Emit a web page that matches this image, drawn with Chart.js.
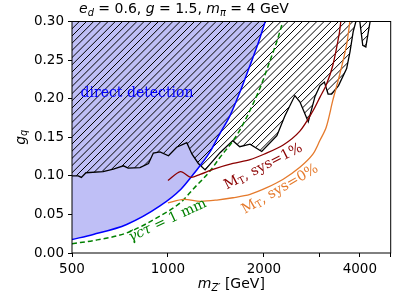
<!DOCTYPE html>
<html>
<head>
<meta charset="utf-8">
<script src="https://cdn.jsdelivr.net/npm/chart.js@4.4.1/dist/chart.umd.min.js"></script>
<style>
  html, body { margin: 0; padding: 0; background: #fff; }
  #wrap { width: 411px; height: 308px; }
</style>
</head>
<body>
<div id="wrap"><canvas id="chart" width="411" height="308"></canvas></div>
<script>
// values: x = m_Z' [GeV], y = g_q
const xTicks = [500, 1000, 2000, 3000, 4000, 5000];
const xTickLabels = ['500', '1000', '2000', '', '4000', ''];

// direct detection boundary (blue, shaded to the left)
const ddMass = [500, 583, 742, 944, 1100, 1201, 1350, 1457, 1566, 1680, 1809, 1920, 2027];
const ddCoupling = [0.0175, 0.024, 0.037, 0.061, 0.083, 0.102, 0.13, 0.155, 0.178, 0.208, 0.243, 0.272, 0.302];

// existing limit (black, hatched above)
const limMass = [500, 523, 535, 553, 626, 674, 725, 750, 817, 869, 900, 944, 1004, 1065, 1146, 1190, 1246, 1308,
  1457, 1598, 1680, 1810, 1969, 2197, 2329, 2502, 2594, 2756, 2894, 3001, 3097, 3181, 3263, 3430, 3637, 3727,
  3813, 3900, 4000, 4086, 4178, 4272, 4318];
const limCoupling = [0.100, 0.100, 0.098, 0.104, 0.1055, 0.1086, 0.113, 0.110, 0.1107, 0.116, 0.1295, 0.131, 0.126,
  0.137, 0.143, 0.128, 0.116, 0.1077, 0.130, 0.1456, 0.1377, 0.141, 0.1316, 0.152, 0.178, 0.204, 0.196, 0.170,
  0.203, 0.217, 0.2216, 0.206, 0.206, 0.217, 0.239, 0.261, 0.287, 0.302, 0.300, 0.269, 0.267, 0.291, 0.302];

// decay length = 1 mm (green dashed)
const ctauMass = [500, 600, 742, 944, 1100, 1201, 1354, 1457, 1598, 1680, 1810, 1950, 2094, 2200, 2301];
const ctauCoupling = [0.012, 0.017, 0.026, 0.048, 0.066, 0.083, 0.106, 0.124, 0.145, 0.159, 0.185, 0.215, 0.25, 0.275, 0.302];

// M_T reach, sys = 1% (dark red)
const sys1Mass = [1000, 1095, 1180, 1262, 1400, 1600, 1810, 2000, 2300, 2594, 2850, 3000, 3140, 3290, 3450, 3490];
const sys1Coupling = [0.094, 0.1055, 0.098, 0.102, 0.109, 0.116, 0.121, 0.128, 0.140, 0.158, 0.184, 0.202, 0.218, 0.243, 0.285, 0.302];

// M_T reach, sys = 0% (orange)
const sys0Mass = [1000, 1120, 1262, 1424, 1600, 1810, 2050, 2300, 2594, 2850, 3000, 3138, 3292, 3453, 3637, 3727];
const sys0Coupling = [0.065, 0.0695, 0.067, 0.0686, 0.0716, 0.076, 0.085, 0.0956, 0.111, 0.128, 0.146, 0.163, 0.198, 0.230, 0.27, 0.302];

const pts = (xs, ys) => xs.map((x, i) => ({x: x, y: ys[i]}));

// text placed at data coordinates
const curveLabels = [
  {x: 532, y: 0.2018, rot: 0, align: 'left', base: 'alphabetic', color: '#0000ff',
   parts: [['direct detection', '']]},
  {x: 996, y: 0.0419, rot: -25, align: 'center', base: 'middle', color: '#008000',
   parts: [['\u03b3\u0304', 'i'], ['c', 'i'], ['\u03c4', 'i'], [' = 1 mm', '']]},
  {x: 1993, y: 0.1118, rot: -27, align: 'center', base: 'middle', color: '#8b0000',
   parts: [['M', ''], ['T', 's'], [', sys=1%', '']]},
  {x: 2248, y: 0.0826, rot: -30, align: 'center', base: 'middle', color: '#e57a2c',
   parts: [['M', ''], ['T', 's'], [', sys=0%', '']]}
];

function hatchPattern() {
  const c = document.createElement('canvas');
  c.width = 36; c.height = 36;
  const g = c.getContext('2d');
  g.strokeStyle = '#000';
  g.lineWidth = 1;
  for (let k = 0; k <= 72.1; k += 7.2) {
    g.beginPath();
    g.moveTo(k, 0);
    g.lineTo(k - 36, 36);
    g.stroke();
  }
  return g.createPattern(c, 'repeat');
}

function drawRich(ctx, parts, x, y, size, family, align) {
  const fontFor = f => (f.includes('i') ? 'italic ' : '') + (f.includes('s') ? size * 0.7 : size) + 'px ' + family;
  let w = 0;
  parts.forEach(p => { ctx.font = fontFor(p[1]); w += ctx.measureText(p[0]).width; });
  let cx = align === 'center' ? x - w / 2 : (align === 'right' ? x - w : x);
  parts.forEach(p => {
    ctx.font = fontFor(p[1]);
    ctx.fillText(p[0], cx, y + (p[1].includes('s') ? size * 0.22 : 0));
    cx += ctx.measureText(p[0]).width;
  });
}

const textPlugin = {
  id: 'texts',
  afterDraw(chart) {
    const ctx = chart.ctx;
    const a = chart.chartArea;
    const xs = chart.scales.x, ys = chart.scales.y;
    ctx.save();
    // frame
    ctx.strokeStyle = '#000';
    ctx.lineWidth = 1;
    ctx.strokeRect(a.left, a.top, a.right - a.left, a.bottom - a.top);

    ctx.fillStyle = '#000';
    ctx.textBaseline = 'alphabetic';
    drawRich(ctx, [['e', 'i'], ['d', 'is'], [' = 0.6, ', ''], ['g', 'i'], [' = 1.5, ', ''],
      ['m', 'i'], ['\u03c0', 'is'], [' = 4 GeV', '']], 184, 12.5, 14, 'DejaVu Sans', 'center');
    drawRich(ctx, [['m', 'i'], ['Z\u2032', 'is'], [' [GeV]', '']], (a.left + a.right) / 2, 288, 14, 'DejaVu Sans', 'center');

    ctx.save();
    ctx.translate(21, (a.top + a.bottom) / 2);
    ctx.rotate(-Math.PI / 2);
    ctx.textBaseline = 'middle';
    drawRich(ctx, [['g', 'i'], ['q', 'is']], 0, 0, 14, 'DejaVu Sans', 'center');
    ctx.restore();

    curveLabels.forEach(l => {
      ctx.save();
      ctx.translate(xs.getPixelForValue(l.x), ys.getPixelForValue(l.y));
      ctx.rotate(l.rot * Math.PI / 180);
      ctx.fillStyle = l.color;
      ctx.textBaseline = l.base;
      drawRich(ctx, l.parts, 0, 0, 14, 'DejaVu Serif', l.align);
      ctx.restore();
    });
    ctx.restore();
  }
};

const tickFont = {family: 'DejaVu Sans', size: 13.5};

new Chart(document.getElementById('chart'), {
  type: 'line',
  data: {
    datasets: [
      {data: pts(ddMass, ddCoupling), fill: 'end', backgroundColor: 'rgb(191,191,246)',
       borderWidth: 0, borderColor: 'rgba(0,0,0,0)', pointRadius: 0, cubicInterpolationMode: 'monotone', order: 10},
      {data: pts(limMass, limCoupling), fill: 'end', backgroundColor: hatchPattern(),
       borderColor: '#000', borderWidth: 1.3, pointRadius: 0, tension: 0, order: 9},
      {data: pts(ddMass, ddCoupling), fill: false, borderColor: '#0000ff', borderWidth: 1.5,
       pointRadius: 0, cubicInterpolationMode: 'monotone', order: 4},
      {data: pts(ctauMass, ctauCoupling), fill: false, borderColor: '#008000', borderWidth: 1.5,
       borderDash: [5, 3], pointRadius: 0, cubicInterpolationMode: 'monotone', order: 3},
      {data: pts(sys1Mass, sys1Coupling), fill: false, borderColor: '#8b0000', borderWidth: 1.3,
       pointRadius: 0, tension: 0.3, order: 2},
      {data: pts(sys0Mass, sys0Coupling), fill: false, borderColor: '#e57a2c', borderWidth: 1.3,
       pointRadius: 0, tension: 0.3, order: 1}
    ]
  },
  options: {
    responsive: false,
    animation: false,
    devicePixelRatio: 1,
    layout: {padding: {top: 21.5, right: 20.3, left: 0, bottom: 0}},
    plugins: {legend: {display: false}, tooltip: {enabled: false}, title: {display: false}},
    scales: {
      x: {
        type: 'logarithmic', min: 500, max: 5000,
        afterBuildTicks: s => { s.ticks = xTicks.map(v => ({value: v})); },
        afterFit: s => { s.height = 55; },
        ticks: {autoSkip: false, maxRotation: 0, color: '#000', font: tickFont, padding: 4,
          callback: v => { const i = xTicks.indexOf(v); return i >= 0 ? xTickLabels[i] : ''; }},
        grid: {drawOnChartArea: false, tickLength: 4, color: '#000'},
        border: {display: false}
      },
      y: {
        min: 0, max: 0.3,
        afterFit: s => { s.width = 72; },
        ticks: {stepSize: 0.05, color: '#000', font: tickFont, padding: 4,
          callback: v => v.toFixed(2)},
        grid: {drawOnChartArea: false, tickLength: 4, color: '#000'},
        border: {display: false}
      }
    }
  },
  plugins: [textPlugin]
});
</script>
</body>
</html>
